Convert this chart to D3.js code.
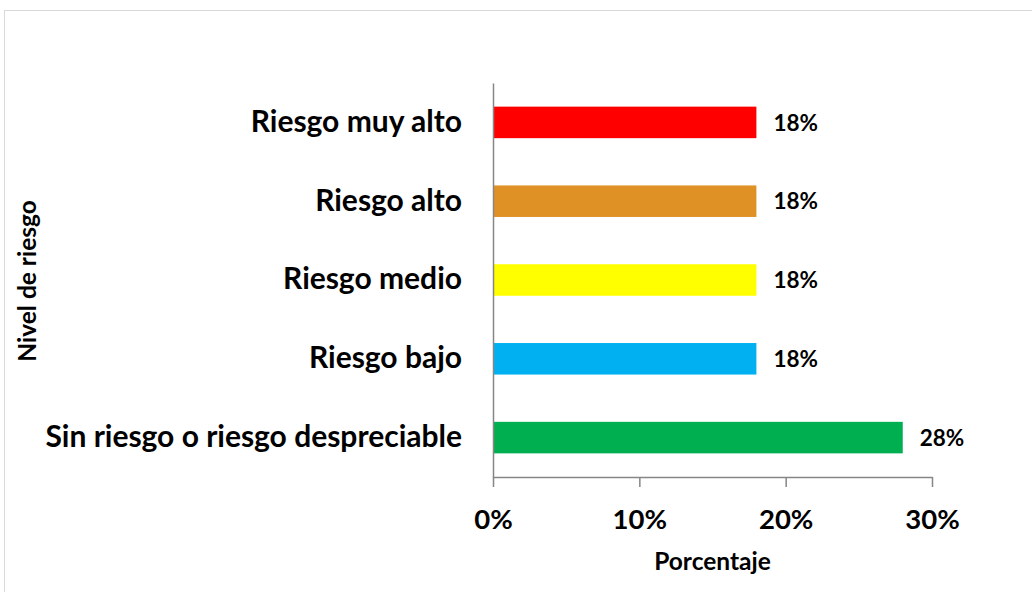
<!DOCTYPE html>
<html>
<head>
<meta charset="utf-8">
<script src="https://cdn.jsdelivr.net/npm/d3@7"></script>
<style>
  html, body { margin: 0; padding: 0; background: #fff; }
  svg { display: block; }
  text { font-family: Lato, "Open Sans", sans-serif; font-weight: bold; fill: #000; }
</style>
</head>
<body>
<svg id="chart" width="1032" height="592"></svg>
<script>
// Risk levels, top to bottom
const categories = [
  "Riesgo muy alto",
  "Riesgo alto",
  "Riesgo medio",
  "Riesgo bajo",
  "Sin riesgo o riesgo despreciable"
];
// Share of each risk level
const values = [0.18, 0.18, 0.18, 0.18, 0.28];
const barColors = ["#FF0000", "#E09126", "#FFFF00", "#00B0F0", "#00B050"];
const xTicks = [0, 0.1, 0.2, 0.3];
const xTitle = "Porcentaje";
const yTitle = "Nivel de riesgo";

const svg = d3.select("#chart");
const W = 1032, H = 592;
const plot = { left: 493, right: 932, top: 83, bottom: 477 };

// outer frame
svg.append("rect")
  .attr("x", 4.5).attr("y", 10.5)
  .attr("width", W + 20).attr("height", H + 20)
  .attr("fill", "none").attr("stroke", "#D9D9D9").attr("stroke-width", 1);

const x = d3.scaleLinear().domain([0, 0.3]).range([plot.left, plot.right]);
const y = d3.scaleBand().domain(categories)
  .range([plot.top, plot.bottom])
  .paddingInner(0.6).paddingOuter(0.3);

const fmt = d3.format(".0%");

// bars
svg.append("g").selectAll("rect")
  .data(categories)
  .join("rect")
  .attr("x", x(0))
  .attr("y", d => y(d))
  .attr("width", (d, i) => x(values[i]) - x(0))
  .attr("height", y.bandwidth())
  .attr("fill", (d, i) => barColors[i]);

// value labels
svg.append("g").selectAll("text")
  .data(categories)
  .join("text")
  .attr("x", (d, i) => x(values[i]) + 17)
  .attr("y", d => y(d) + y.bandwidth() / 2)
  .attr("dy", "0.36em")
  .style("font-size", "22.5px")
  .text((d, i) => fmt(values[i]));

// x axis
const xAxis = svg.append("g")
  .attr("transform", `translate(0,${plot.bottom})`)
  .call(d3.axisBottom(x).tickValues(xTicks).tickFormat(fmt).tickSize(10).tickSizeOuter(0));
xAxis.select(".domain").attr("stroke", "#868686").attr("stroke-width", 1.5);
xAxis.selectAll(".tick line").attr("stroke", "#868686").attr("stroke-width", 1.5);
xAxis.selectAll(".tick text")
  .attr("y", 52).attr("dy", 0)
  .style("font-size", "27.5px")
  .style("font-family", "Lato, sans-serif")
  .style("font-weight", "bold")
  .attr("fill", "#000");

// y axis
const yAxis = svg.append("g")
  .attr("transform", `translate(${plot.left},0)`)
  .call(d3.axisLeft(y).tickSize(0).tickPadding(31));
yAxis.select(".domain").attr("stroke", "#868686").attr("stroke-width", 1.5);
yAxis.selectAll(".tick text")
  .attr("dy", "0.31em")
  .style("font-size", "30px")
  .style("font-family", "Lato, sans-serif")
  .style("font-weight", "bold")
  .attr("fill", "#000");

// axis titles
svg.append("text")
  .attr("x", (plot.left + plot.right) / 2)
  .attr("y", 570)
  .attr("text-anchor", "middle")
  .style("font-size", "24.5px")
  .text(xTitle);

svg.append("text")
  .attr("transform", `translate(36,281) rotate(-90)`)
  .attr("text-anchor", "middle")
  .style("font-size", "24.5px")
  .text(yTitle);
</script>
</body>
</html>
